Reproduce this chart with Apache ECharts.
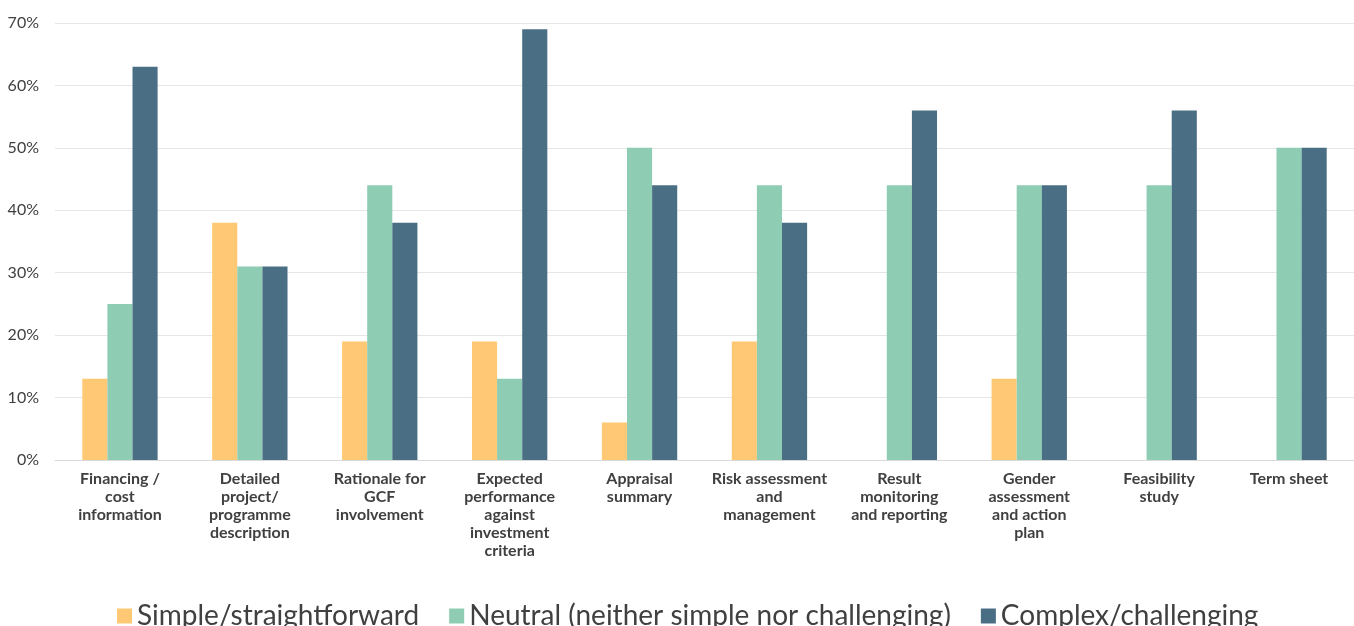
<!DOCTYPE html>
<html>
<head>
<meta charset="utf-8">
<script src="https://cdn.jsdelivr.net/npm/echarts@6/dist/echarts.min.js"></script>
<style>
  html, body { margin: 0; padding: 0; background: #fff; }
  #chart { width: 1354px; height: 626px; }
</style>
</head>
<body>
<div id="chart"></div>
<script>
const categories = [
  'Financing /\ncost\ninformation',
  'Detailed\nproject/\nprogramme\ndescription',
  'Rationale for\nGCF\ninvolvement',
  'Expected\nperformance\nagainst\ninvestment\ncriteria',
  'Appraisal\nsummary',
  'Risk assessment\nand\nmanagement',
  'Result\nmonitoring\nand reporting',
  'Gender\nassessment\nand action\nplan',
  'Feasibility\nstudy',
  'Term sheet'
];
const simpleValues  = [13, 38, 19, 19, 6, 19, 0, 13, 0, 0];
const neutralValues = [25, 31, 44, 13, 50, 44, 44, 44, 44, 50];
const complexValues = [63, 31, 38, 69, 44, 38, 56, 44, 56, 50];

const chart = echarts.init(document.getElementById('chart'));

const labelFont = 'Lato, "Open Sans", sans-serif';

chart.setOption({
  animation: false,
  grid: { left: 55, right: 0, top: 23, bottom: 166 },
  legend: {
    data: ['Simple/straightforward', 'Neutral (neither simple nor challenging)', 'Complex/challenging'],
    left: 112,
    top: 597,
    itemWidth: 15,
    itemHeight: 15,
    itemGap: 30,
    icon: 'rect',
    textStyle: { fontFamily: labelFont, fontSize: 28, color: '#404040' }
  },
  xAxis: {
    type: 'category',
    data: categories,
    axisTick: { show: false },
    axisLine: { lineStyle: { color: '#d9d9d9', width: 1 } },
    axisLabel: {
      interval: 0,
      margin: 10,
      fontFamily: labelFont,
      fontSize: 16,
      fontWeight: 'bold',
      lineHeight: 18,
      color: '#404040'
    }
  },
  yAxis: {
    type: 'value',
    min: 0,
    max: 70,
    interval: 10,
    axisLabel: {
      formatter: '{value}%',
      fontFamily: labelFont,
      fontSize: 16,
      color: '#404040',
      margin: 16
    },
    splitLine: { lineStyle: { color: '#e6e6e6' } }
  },
  series: [
    {
      name: 'Simple/straightforward',
      type: 'bar',
      data: simpleValues,
      barGap: '0%',
      barCategoryGap: '42%',
      itemStyle: { color: '#FFC874' }
    },
    {
      name: 'Neutral (neither simple nor challenging)',
      type: 'bar',
      data: neutralValues,
      itemStyle: { color: '#8ECCB4' }
    },
    {
      name: 'Complex/challenging',
      type: 'bar',
      data: complexValues,
      itemStyle: { color: '#4A6F84' }
    }
  ]
});
</script>
</body>
</html>
